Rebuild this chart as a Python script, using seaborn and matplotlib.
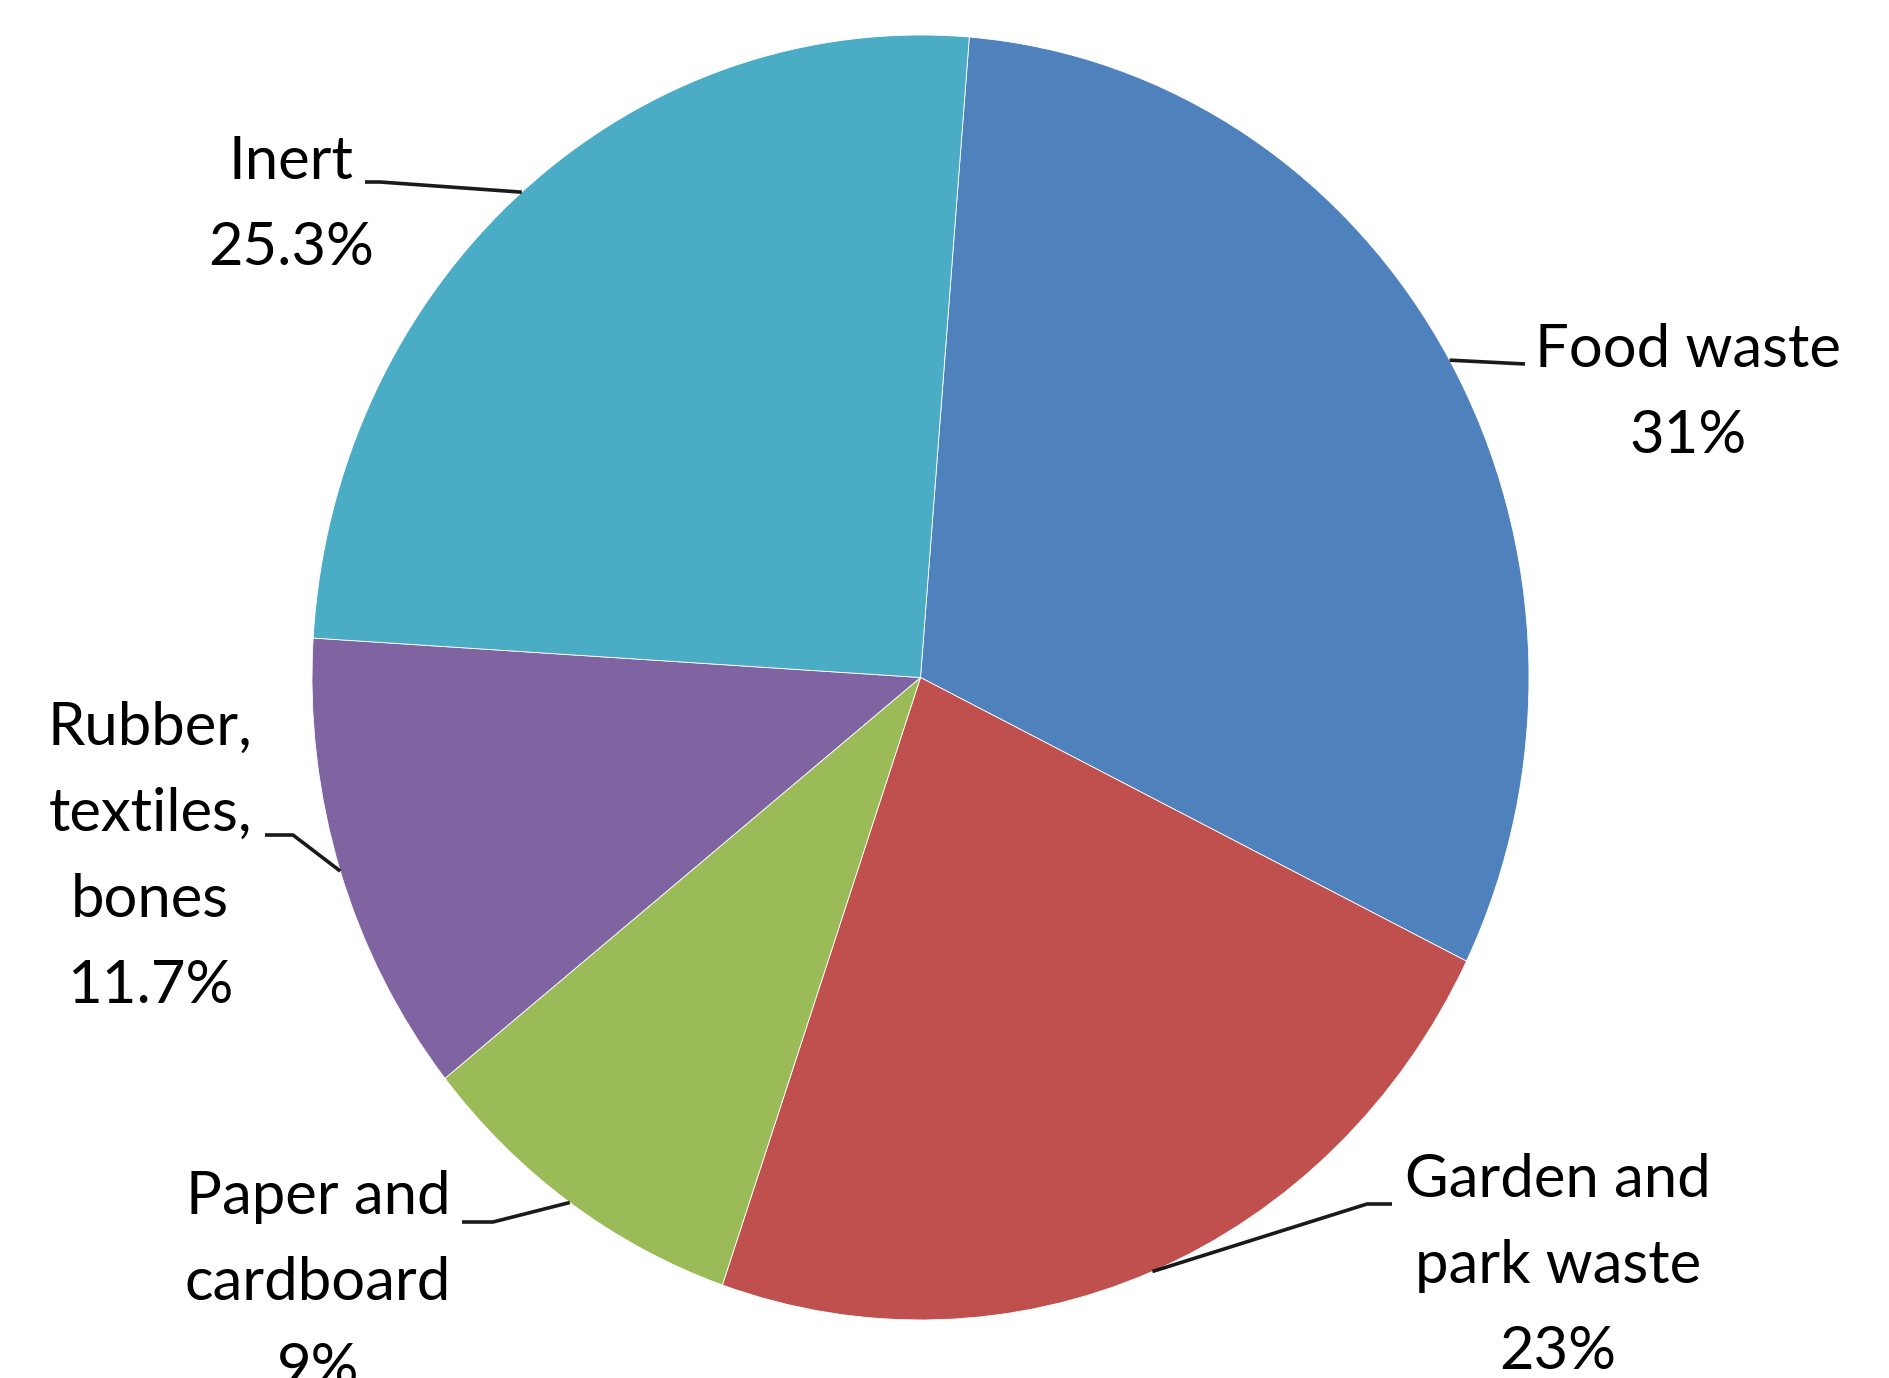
import numpy as np
import matplotlib
matplotlib.use("Agg")
import matplotlib.pyplot as plt
import seaborn as sns

# ---- data ----
categories = ["Food waste", "Garden and\npark waste", "Paper and\ncardboard",
              "Rubber,\ntextiles,\nbones", "Inert"]
shares = [31.0, 23.0, 9.0, 11.7, 25.3]
pct_labels = ["31%", "23%", "9%", "11.7%", "25.3%"]
colors = ["#4F81BD", "#C0504D", "#9BBB59", "#8064A2", "#4BACC6"]

sns.set_theme(style="white")
plt.rcParams['font.family'] = ['Lato', 'DejaVu Sans']

W, H = 1890, 1378
fig = plt.figure(figsize=(W / 100, H / 100), dpi=100)
fig.patch.set_facecolor("white")

cx, cy, rx, ry = 920.5, 677.5, 608.5, 642.5
ax = fig.add_axes([(cx - rx) / W, (H - cy - ry) / H, 2 * rx / W, 2 * ry / H])
wedges, _ = ax.pie(shares, colors=sns.color_palette(colors), startangle=85.4,
                   counterclock=False,
                   wedgeprops=dict(edgecolor="white", linewidth=0.6))
ax.set_aspect("auto")
ax.set_xlim(-1, 1)
ax.set_ylim(-1, 1)
ax.axis("off")

ov = fig.add_axes([0, 0, 1, 1])
ov.set_xlim(0, W)
ov.set_ylim(H, 0)
ov.axis("off")

# ---- layout (label positions, leader elbows) ----
label_x = [1688, 1558, 318, 150, 291]
label_y0 = [367, 1197, 1214, 745, 179]
pitch = 86
elbows = [
    [(1525, 364)],
    [(1392, 1204), (1367, 1204)],
    [(462, 1222), (493, 1222)],
    [(265, 835), (293, 835)],
    [(365, 182), (380, 182)],
]
fs = 43

to_ov = ov.transData.inverted()
for i, w in enumerate(wedges):
    t = np.deg2rad((w.theta1 + w.theta2) / 2)
    edge = to_ov.transform(ax.transData.transform((np.cos(t), np.sin(t))))
    pts = elbows[i] + [tuple(edge)]
    xs, ys = zip(*pts)
    ov.plot(xs, ys, color="#1a1a1a", lw=2.6, solid_capstyle="butt")
    lines = categories[i].split("\n") + [pct_labels[i]]
    for j, ln in enumerate(lines):
        ov.text(label_x[i], label_y0[i] + j * pitch, ln, ha="center",
                va="baseline", fontsize=fs, color="black")

fig.savefig("out.png", dpi=100, facecolor="white")
